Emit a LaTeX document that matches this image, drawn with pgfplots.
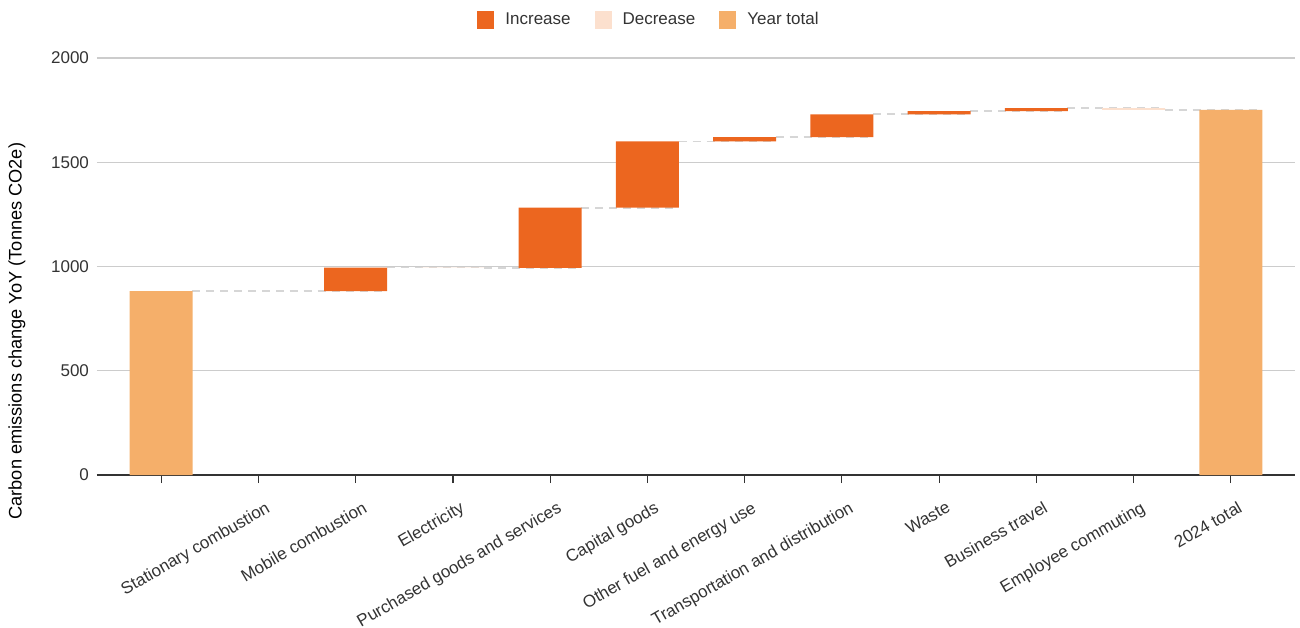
\documentclass[border=0pt]{standalone}
\usepackage{fontspec}
\setmainfont{Liberation Sans}
\usepackage{pgfplots}
\pgfplotsset{compat=1.18}
\usepackage{pgfplotstable}
\definecolor{inc}{HTML}{EC661F}
\definecolor{dec}{HTML}{FCE0CE}
\definecolor{tot}{HTML}{F5AF6A}
\definecolor{gridc}{HTML}{CCCCCC}
\definecolor{conn}{HTML}{D6D6D6}
\definecolor{txt}{HTML}{333333}

% x base increase decrease total
\pgfplotstableread{
x base inc dec tot
0 0 0 0 882
1 882 0 0 0
2 882 113 0 0
3 993 0 2 0
4 993 289 0 0
5 1282 318 0 0
6 1600 21 0 0
7 1621 109 0 0
8 1730 15 0 0
9 1745 14 0 0
10 1751 0 8 0
11 0 0 0 1751
}\bars

% connector lines (running totals)
\pgfplotstableread{
x y
0.32 882
1.32 882
1.32 nan
1.32 882
2.32 882
2.32 nan
2.32 995
3.32 995
3.32 nan
3.32 993
4.32 993
4.32 nan
4.32 1282
5.32 1282
5.32 nan
5.32 1600
6.32 1600
6.32 nan
6.32 1621
7.32 1621
7.32 nan
7.32 1730
8.32 1730
8.32 nan
8.32 1745
9.32 1745
9.32 nan
9.32 1759
10.32 1759
10.32 nan
10.32 1751
11.32 1751
}\conns

\begin{document}
\fontsize{8.5bp}{10bp}\selectfont
\begin{tikzpicture}
\useasboundingbox (-48.5bp,-76.5bp) rectangle (601.5bp,237.5bp);
\begin{axis}[
  at={(0,0)}, anchor=south west,
  scale only axis, width=599bp, height=208.5bp,
  xmin=-0.66, xmax=11.66, ymin=0, ymax=2000,
  ybar stacked, bar width=31.5bp,
  axis x line*=bottom, axis y line*=left,
  y axis line style={draw=none},
  x axis line style={draw=txt, line width=0.7bp},
  xtick={0,...,11},
  xticklabels={{},Stationary combustion,Mobile combustion,Electricity,Purchased goods and services,Capital goods,Other fuel and energy use,Transportation and distribution,Waste,Business travel,Employee commuting,2024 total},
  xticklabel style={rotate=30, anchor=north east, font=\fontsize{8.5bp}{10bp}\selectfont, text=txt, inner sep=1bp, xshift=-0.5bp, yshift=-8bp},
  tick align=outside,
  major tick length=4bp,
  x tick style={draw=txt, line width=0.6bp},
  ytick={0,500,1000,1500,2000},
  y tick style={draw=none},
  yticklabel style={font=\fontsize{8.5bp}{10bp}\selectfont, text=txt, xshift=3bp},
  /pgf/number format/assume math mode=true,
  /pgf/number format/1000 sep={},
  ymajorgrids, grid style={draw=gridc, line width=0.6bp},
  ylabel={Carbon emissions change YoY (Tonnes CO2e)},
  ylabel style={at={(axis description cs:-0.0668,0.345)}, anchor=center, font=\fontsize{9.1bp}{11bp}\selectfont, text=black},
  legend columns=3,
  legend style={at={(axis description cs:0.4616,1)}, anchor=center, yshift=19bp, draw=none, fill=none,
    font=\fontsize{8.5bp}{10bp}\selectfont, text=txt,
    /tikz/every even column/.append style={column sep=10bp}},
  legend image code/.code={\fill[#1] (0bp,-4.25bp) rectangle (8.5bp,4.25bp); \path (12bp,0bp);},
]
\addplot[draw=none, fill=none, forget plot] table[x=x, y=base] {\bars};
\addplot[draw=none, fill=inc] table[x=x, y=inc] {\bars};
\addplot[draw=none, fill=dec] table[x=x, y=dec] {\bars};
\addplot[draw=none, fill=tot] table[x=x, y=tot] {\bars};
\addplot[sharp plot, stack plots=false, conn, line width=0.9bp, dash pattern=on 4bp off 3bp, unbounded coords=jump, forget plot] table[x=x, y=y] {\conns};
\legend{Increase,Decrease,Year total}
\end{axis}
\end{tikzpicture}
\end{document}
